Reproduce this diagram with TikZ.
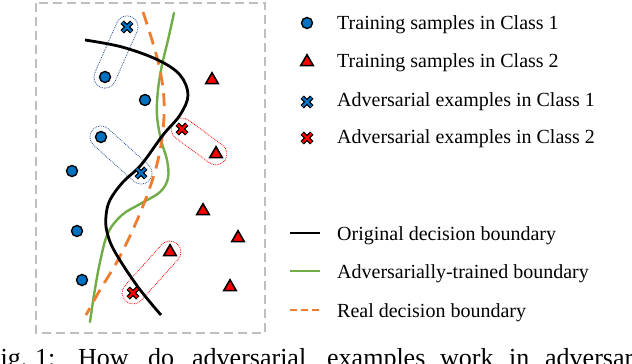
\documentclass[tikz,border=0pt]{standalone}
\usepackage{fontspec}
\setmainfont{Liberation Serif}
\usetikzlibrary{shapes.geometric,shapes.misc}
\definecolor{xblue}{HTML}{0070C0}
\definecolor{xred}{HTML}{FF0000}
\definecolor{xgreen}{HTML}{70AD47}
\definecolor{xorange}{HTML}{ED7D31}
\definecolor{xgray}{HTML}{BFBFBF}
\definecolor{pillblue}{HTML}{2F5597}
\tikzset{
  c1/.style={circle, draw=black, line width=1.4pt, fill=xblue, minimum size=11pt, inner sep=0pt},
  c2/.style={regular polygon, regular polygon sides=3, draw=black, line width=1.6pt, fill=xred, minimum size=14.5pt, inner sep=0pt},
  pillb/.style={rounded rectangle, draw=pillblue, densely dotted, line width=0.8pt, minimum height=22pt, inner sep=0pt},
  pillr/.style={rounded rectangle, draw=xred, densely dotted, line width=0.8pt, minimum height=22pt, inner sep=0pt},
  legtext/.style={anchor=base west, font=\fontsize{20}{24}\selectfont, inner sep=0pt},
  captext/.style={anchor=base west, font=\fontsize{26}{30}\selectfont, inner sep=0pt},
  origline/.style={black, line width=2.8pt},
  advline/.style={xgreen, line width=2.4pt},
  realline/.style={xorange, line width=2.8pt, dash pattern=on 13pt off 8pt},
  pics/xm/.style={code={
    \draw[black, line width=4.8pt] (-4.8,-4.8)--(4.8,4.8) (-4.8,4.8)--(4.8,-4.8);
    \draw[#1, line width=2.2pt] (-4.3,-4.3)--(4.3,4.3) (-4.3,4.3)--(4.3,-4.3);
  }}
}
\begin{document}
\begin{tikzpicture}[x=1pt,y=-1pt]
\useasboundingbox (0,0) rectangle (632,364);
\clip (0,0) rectangle (632,364);
\fill[white] (0,0) rectangle (632,364);
% frame
\draw[xgray, line width=1.8pt, dash pattern=on 9pt off 5pt] (36,3) rectangle (265,333);
% pills
\node[pillb, rotate=66.25, minimum width=77pt] (p1) at (116,52) {};
\node[pillb, rotate=-42, minimum width=76pt] (p2) at (121,155) {};
\node[pillr, rotate=-36.3, minimum width=64pt] (p3) at (199,141.5) {};
\node[pillr, rotate=48, minimum width=77pt] (p4) at (151.5,272.5) {};
% boundaries
\draw[advline, line cap=round] plot[smooth, tension=0.6] coordinates {(174,13) (168,40) (162,65) (158,90) (157,115) (161,140) (167,160) (168,178) (160,192) (140,204) (122,215) (108,233) (100,262) (94,295) (90,322)};
\draw[realline] plot[smooth, tension=0.6] coordinates {(143,12) (152,40) (160,70) (164,100) (163,130) (158,160) (149,190) (135,225) (118,260) (100,290) (86,315)};
\draw[origline] plot[smooth, tension=0.6] coordinates {(85,40) (122,47) (158,60) (180,75) (188,95) (180,115) (163,135) (141,165) (123,182) (110,200) (106,216) (107,232) (115,252) (138,287) (161,315)};
% class 1 samples
\node[c1] (b1) at (105,77) {};
\node[c1] (b2) at (145,100) {};
\node[c1] (b3) at (101,137) {};
\node[c1] (b4) at (72,171) {};
\node[c1] (b5) at (77,231) {};
\node[c1] (b6) at (82,280) {};
% class 2 samples
\node[c2] (r1) at (212,80) {};
\node[c2] (r2) at (216,154) {};
\node[c2] (r3) at (203,211) {};
\node[c2] (r4) at (238,238) {};
\node[c2] (r5) at (170,252) {};
\node[c2] (r6) at (230,287) {};
% adversarial examples
\pic (xb1) at (127,27) {xm=xblue};
\pic (xb2) at (141,173) {xm=xblue};
\pic (xr1) at (182,129) {xm=xred};
\pic (xr2) at (133,293) {xm=xred};
% legend
\node[c1] (lb) at (307,23) {};
\node[c2] (lr) at (307,62) {};
\pic (lxb) at (307,102) {xm=xblue};
\pic (lxr) at (307,138) {xm=xred};
\coordinate (lo1) at (290,233); \coordinate (lo2) at (320,233);
\coordinate (la1) at (290,271); \coordinate (la2) at (320,271);
\coordinate (lr1) at (290,310); \coordinate (lr2) at (320,310);
\draw[origline] (lo1) -- (lo2);
\draw[advline] (la1) -- (la2);
\draw[realline, dash pattern=on 7pt off 4pt] (lr1) -- (lr2);
\node[legtext] (t1) at (337,29) {Training samples in Class 1};
\node[legtext] (t2) at (337,67) {Training samples in Class 2};
\node[legtext] (t3) at (337,106) {Adversarial examples in Class 1};
\node[legtext] (t4) at (337,143) {Adversarial examples in Class 2};
\node[legtext] (t5) at (337,240) {Original decision boundary};
\node[legtext] (t6) at (337,278) {Adversarially-trained boundary};
\node[legtext] (t7) at (337,317) {Real decision boundary};
% caption (cut off by the picture edge, as in the reference)
\node[captext] (c1w) at (-14,366) {Fig.};
\node[captext] (c2w) at (35,366) {1:};
\node[captext] (c3w) at (78,366) {How};
\node[captext] (c4w) at (148,366) {do};
\node[captext] (c5w) at (192,366) {adversarial};
\node[captext] (c6w) at (327,366) {examples};
\node[captext] (c7w) at (440,366) {work};
\node[captext] (c8w) at (509,366) {in};
\node[captext] (c9w) at (545,366) {adversarial};
\end{tikzpicture}
\end{document}
